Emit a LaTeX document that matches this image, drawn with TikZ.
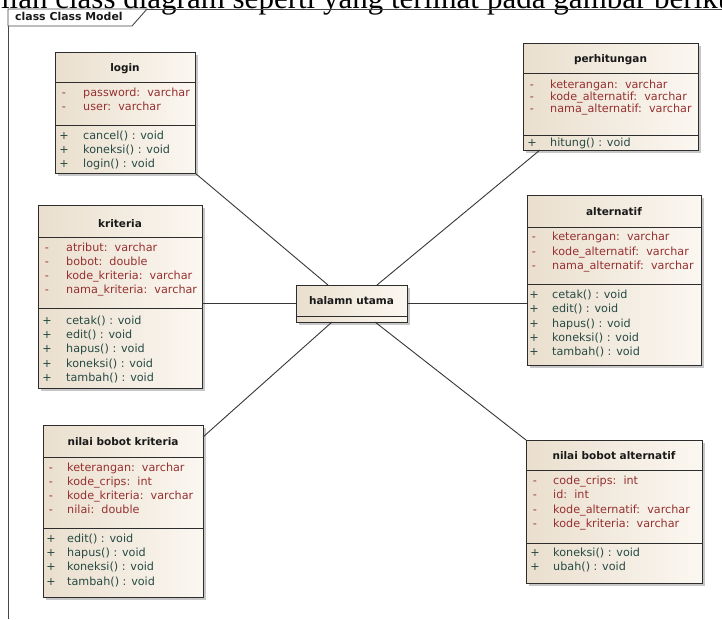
\documentclass[tikz,border=0pt]{standalone}
\usepackage{fontspec}
\setmainfont{DejaVu Sans}
\newfontfamily\docserif{Liberation Serif}
\usetikzlibrary{shadows}

\definecolor{attrcol}{RGB}{150,48,48}
\definecolor{methcol}{RGB}{38,74,68}
\definecolor{titlecol}{RGB}{25,25,25}
\definecolor{boxline}{RGB}{45,45,45}
\definecolor{fillA}{RGB}{234,223,206}
\definecolor{fillB}{RGB}{251,247,241}
\definecolor{connline}{RGB}{55,55,55}
\definecolor{framecol}{RGB}{70,70,70}

\newcommand\bodyfont{\fontsize{11.2}{13}\selectfont}
\newcommand\headfont{\fontsize{10.5}{13}\selectfont\bfseries}

\tikzset{
  classbox/.style={draw=boxline, line width=0.9pt, left color=fillA, right color=fillB,
    inner sep=0pt, outer sep=0pt,
    drop shadow={shadow xshift=3pt, shadow yshift=-3pt, fill=black, opacity=0.22}},
  sepline/.style={draw=boxline, line width=0.9pt},
  ctitle/.style={font=\headfont, text=titlecol, inner sep=0pt, anchor=mid},
  atxt/.style={font=\bodyfont, text=attrcol, inner sep=0pt, anchor=mid west},
  mtxt/.style={font=\bodyfont, text=methcol, inner sep=0pt, anchor=mid west},
  asign/.style={font=\bodyfont, text=attrcol, inner sep=0pt, anchor=mid},
  msign/.style={font=\bodyfont, text=methcol, inner sep=0pt, anchor=mid},
  conn/.style={draw=connline, line width=0.9pt},
  framestyle/.style={draw=framecol, line width=0.9pt},
}

% #1 name, #2 x1, #3 y1, #4 x2, #5 y2, #6 title y, #7 sep1, #8 sep2, #9 title
\newcommand\umlbox[9]{%
  \node[classbox, anchor=north west, minimum width={(#4-#2)*1pt}, minimum height={(#5-#3)*1pt}] (#1) at (#2,#3) {};
  \draw[sepline] (#2,#7) -- (#4,#7);
  \draw[sepline] (#2,#8) -- (#4,#8);
  \node[ctitle] (#1-title) at ({(#2+#4)/2},#6) {#9};
}

\begin{document}
\begin{tikzpicture}[x=1pt,y=-1pt]
\useasboundingbox (0,0) rectangle (722,619);
\clip (0,0) rectangle (722,619);
\fill[white] (0,0) rectangle (722,619);

% cropped document line at the top
\node[font=\docserif\fontsize{31}{36}\selectfont, inner sep=0pt, anchor=base east] (doctxtA) at (479,8.5) {Berikut tampilan class diagram seperti yang terlihat};
\node[font=\docserif\fontsize{31}{36}\selectfont, inner sep=0pt, anchor=base west] (doctxtB) at (487,8.5) {pada gambar berikut};

% frame
\draw[framestyle] (8,619) -- (8,9) -- (722,9);
\draw[framestyle, fill=white] (8,9) -- (147,9) -- (132,26) -- (8,26) -- cycle;
\node[font=\fontsize{10.9}{13}\selectfont\bfseries, text=titlecol, inner sep=0pt, anchor=mid west] (frametab) at (15,17.5) {class Class Model};

% boxes
\umlbox{login}{55}{52}{195}{173}{69}{82}{125}{login}
\begin{scope}
\clip (login.north west) rectangle (login.south east);
\foreach \yy/\txt in {94/password:~~varchar, 108/user:~~varchar}
  {\node[asign] at (64,\yy) {-}; \node[atxt] at (83,\yy) {\txt};}
\foreach \yy/\txt in {137/cancel() : void, 151/koneksi() : void, 165/login() : void}
  {\node[msign] at (64,\yy) {+}; \node[mtxt] at (83,\yy) {\txt};}
\end{scope}

\umlbox{kriteria}{38}{205}{202}{388}{225}{237}{308}{kriteria}
\begin{scope}
\clip (kriteria.north west) rectangle (kriteria.south east);
\foreach \yy/\txt in {249/atribut:~~varchar, 263/bobot:~~double, 277/kode\_kriteria:~~varchar, 291/nama\_kriteria:~~varchar}
  {\node[asign] at (47,\yy) {-}; \node[atxt] at (66,\yy) {\txt};}
\foreach \yy/\txt in {322/cetak() : void, 336/edit() : void, 350/hapus() : void, 365/koneksi() : void, 379/tambah() : void}
  {\node[msign] at (47,\yy) {+}; \node[mtxt] at (66,\yy) {\txt};}
\end{scope}

\umlbox{nbk}{43}{425}{203}{597}{443}{457}{528}{nilai bobot kriteria}
\begin{scope}
\clip (nbk.north west) rectangle (nbk.south east);
\foreach \yy/\txt in {469/keterangan:~~varchar, 483/kode\_crips:~~int, 497/kode\_kriteria:~~varchar, 511/nilai:~~double}
  {\node[asign] at (51,\yy) {-}; \node[atxt] at (67,\yy) {\txt};}
\foreach \yy/\txt in {540/edit() : void, 554/hapus() : void, 568/koneksi() : void, 583/tambah() : void}
  {\node[msign] at (51,\yy) {+}; \node[mtxt] at (67,\yy) {\txt};}
\end{scope}

\umlbox{perh}{523}{43}{698}{150}{60}{73}{135}{perhitungan}
\begin{scope}
\clip (perh.north west) rectangle (perh.south east);
\foreach \yy/\txt in {86/keterangan:~~varchar, 98/kode\_alternatif:~~varchar, 110/nama\_alternatif:~~varchar}
  {\node[asign] at (532,\yy) {-}; \node[atxt] at (550,\yy) {\txt};}
\foreach \yy/\txt in {144/hitung() : void}
  {\node[msign] at (532,\yy) {+}; \node[mtxt] at (550,\yy) {\txt};}
\end{scope}

\umlbox{alt}{527}{195}{701}{365}{213}{227}{284}{alternatif}
\begin{scope}
\clip (alt.north west) rectangle (alt.south east);
\foreach \yy/\txt in {238/keterangan:~~varchar, 253/kode\_alternatif:~~varchar, 267/nama\_alternatif:~~varchar}
  {\node[asign] at (534,\yy) {-}; \node[atxt] at (552,\yy) {\txt};}
\foreach \yy/\txt in {296/cetak() : void, 310/edit() : void, 325/hapus() : void, 339/koneksi() : void, 353/tambah() : void}
  {\node[msign] at (534,\yy) {+}; \node[mtxt] at (552,\yy) {\txt};}
\end{scope}

\umlbox{nba}{526}{440}{702}{583}{457}{470}{543}{nilai bobot alternatif}
\begin{scope}
\clip (nba.north west) rectangle (nba.south east);
\foreach \yy/\txt in {482/code\_crips:~~int, 496/id:~~int, 511/kode\_alternatif:~~varchar, 525/kode\_kriteria:~~varchar}
  {\node[asign] at (535,\yy) {-}; \node[atxt] at (553,\yy) {\txt};}
\foreach \yy/\txt in {554/koneksi() : void, 568/ubah() : void}
  {\node[msign] at (535,\yy) {+}; \node[mtxt] at (553,\yy) {\txt};}
\end{scope}

% central class
\node[classbox, anchor=north west, minimum width=111pt, minimum height=37pt] (center) at (296,285) {};
\draw[sepline] (296,316) -- (407,316);
\node[ctitle] (center-title) at (351.5,302) {halamn utama};

% connectors
\draw[conn] (login.south east) -- ([xshift=32pt]center.north west);
\draw[conn] ([xshift=17pt]perh.south west) -- ([xshift=81pt]center.north west);
\draw[conn] (center.west -| kriteria.east) -- (center.west);
\draw[conn] (center.east) -- (center.east -| alt.west);
\draw[conn] ([yshift=-12pt]nbk.north east) -- ([xshift=36pt]center.south west);
\draw[conn] ([xshift=79pt]center.south west) -- (nba.north west);
\end{tikzpicture}
\end{document}
